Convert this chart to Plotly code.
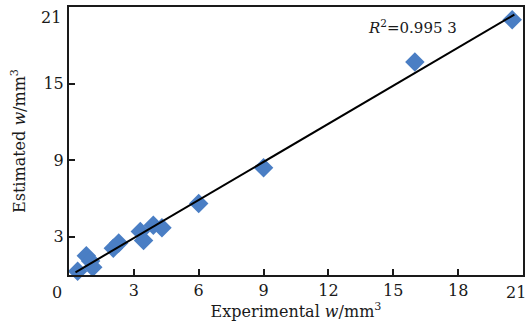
import numpy as np
import plotly.graph_objects as go

experimental = [0.4, 0.8, 1.0, 1.1, 2.05, 2.3, 3.3, 3.45, 3.9, 4.3, 6.0, 9.0, 16.0, 20.5]
estimated = [0.3, 1.5, 1.1, 0.6, 2.1, 2.5, 3.4, 2.7, 3.9, 3.7, 5.6, 8.4, 16.7, 20.0]
x_tick_vals = [3, 6, 9, 12, 15, 18]
y_tick_vals = [3, 9, 15]
r2_text = "<i>R</i><sup>2</sup>=0.995 3"

coef = np.polyfit(experimental, estimated, 1)
fx = np.array([min(experimental) - 0.1, max(experimental) + 0.1])
fy = coef[0] * fx + coef[1]

FONT = "DejaVu Serif"
INK = "#1a1a1a"
fig = go.Figure()
fig.add_trace(go.Scatter(x=experimental, y=estimated, mode="markers",
                         marker=dict(symbol="diamond", size=15, color="#4a7ec4"),
                         showlegend=False, cliponaxis=False))
fig.add_trace(go.Scatter(x=fx, y=fy, mode="lines", line=dict(color="black", width=2),
                         showlegend=False))

axis_common = dict(range=[0, 21], showgrid=False, zeroline=False, showline=True,
                   linecolor=INK, linewidth=2, mirror=True, ticks="inside",
                   ticklen=6, tickwidth=1.5, tickcolor=INK, automargin=False,
                   tickfont=dict(family=FONT, size=16, color=INK))
fig.update_xaxes(**axis_common, tickvals=x_tick_vals,
                 title=dict(text="Experimental <i>w</i>/mm<sup>3</sup>", standoff=4,
                            font=dict(family=FONT, size=16, color=INK)))
fig.update_yaxes(**axis_common, tickvals=y_tick_vals,
                 title=dict(text="Estimated <i>w</i>/mm<sup>3</sup>", standoff=14,
                            font=dict(family=FONT, size=16, color=INK)))

fig.add_annotation(x=0, y=0, xref="x", yref="y", text="0", showarrow=False,
                   xshift=-12, yshift=-17, font=dict(family=FONT, size=16, color=INK))
fig.add_annotation(x=21, y=0, xref="x", yref="y", text="21", showarrow=False,
                   xanchor="right", xshift=5, yshift=-17, font=dict(family=FONT, size=16, color=INK))
fig.add_annotation(x=0, y=21, xref="x", yref="y", text="21", showarrow=False,
                   xshift=-18, yshift=-10, font=dict(family=FONT, size=16, color=INK))
fig.add_annotation(x=13.75, y=19.4, xref="x", yref="y", text=r2_text, showarrow=False,
                   xanchor="left", font=dict(family=FONT, size=15, color=INK))

fig.update_layout(width=527, height=336, margin=dict(l=69, r=4, t=7, b=61),
                  plot_bgcolor="white", paper_bgcolor="white")
fig.write_html("out.html", config={"displayModeBar": False},
               post_script="document.body.style.margin='0';")
